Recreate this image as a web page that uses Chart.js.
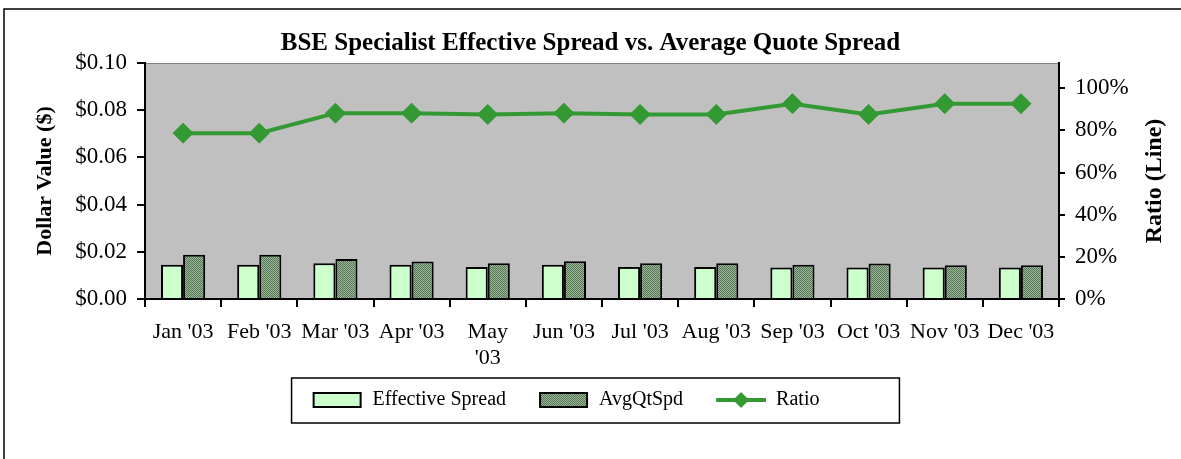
<!DOCTYPE html>
<html>
<head>
<meta charset="utf-8">
<script src="https://cdn.jsdelivr.net/npm/chart.js@4.4.1/dist/chart.umd.min.js"></script>
<style>
  html, body { margin: 0; padding: 0; background: #fff; }
  #wrap { width: 1181px; height: 459px; }
</style>
</head>
<body>
<div id="wrap"><canvas id="myChart" width="1181" height="459"></canvas></div>
<script>
// Daten ----------------------------------------------------------------
const monate = ["Jan '03", "Feb '03", "Mar '03", "Apr '03", ["May", "'03"], "Jun '03",
                "Jul '03", "Aug '03", "Sep '03", "Oct '03", "Nov '03", "Dec '03"];
const effectiveSpread = [0.0145, 0.0145, 0.0152, 0.0145, 0.0136, 0.0145,
                         0.0136, 0.0136, 0.0133, 0.0133, 0.0133, 0.0133];
const avgQtSpd = [0.0187, 0.0187, 0.0169, 0.0159, 0.0152, 0.0160,
                  0.0152, 0.0152, 0.0145, 0.0150, 0.0143, 0.0143];
const ratio = [0.787, 0.787, 0.882, 0.882, 0.876, 0.882,
               0.876, 0.876, 0.927, 0.876, 0.927, 0.927];
const dollarTicks = [0, 0.02, 0.04, 0.06, 0.08, 0.10];
const ratioTicks = [0, 0.2, 0.4, 0.6, 0.8, 1.0];

const serif = "'Liberation Serif', 'Times New Roman', serif";
const gruen = '#339933';
const LEER = 23; // Leerraum vor jedem Legendensymbol

// Punktraster fuer AvgQtSpd
function makePattern() {
    const c = document.createElement('canvas');
    c.width = 2; c.height = 2;
    const g = c.getContext('2d');
    g.fillStyle = '#9bb89b'; g.fillRect(0, 0, 2, 2);
    g.fillStyle = '#557555'; g.fillRect(0, 0, 1, 1); g.fillRect(1, 1, 1, 1);
    return g.createPattern(c, 'repeat');
}
const muster = makePattern();

// Legenden-Symbole als kleine Canvas (mit Leerraum links)
function swatch(fill) {
    const c = document.createElement('canvas');
    c.width = LEER + 50; c.height = 16;
    const g = c.getContext('2d');
    g.fillStyle = fill; g.fillRect(LEER + 1, 1, 47, 14);
    g.strokeStyle = '#000'; g.lineWidth = 2; g.strokeRect(LEER + 1, 1, 47, 14);
    return c;
}
function lineSymbol() {
    const c = document.createElement('canvas');
    c.width = LEER + 50; c.height = 20;
    const g = c.getContext('2d');
    g.strokeStyle = gruen; g.lineWidth = 4;
    g.beginPath(); g.moveTo(LEER, 10); g.lineTo(LEER + 50, 10); g.stroke();
    g.fillStyle = gruen;
    const m = LEER + 25;
    g.beginPath(); g.moveTo(m, 2); g.lineTo(m + 8, 10); g.lineTo(m, 18); g.lineTo(m - 8, 10); g.closePath(); g.fill();
    return c;
}
const symbole = [swatch('#ccffcc'), swatch(muster), lineSymbol()];
const legendTexte = ['Effective Spread', 'AvgQtSpd', 'Ratio'];

// Hintergrund, Rahmen, Legendenrahmen, rechter Achsentitel
const rahmenPlugin = {
    id: 'rahmen',
    afterLayout(chart) {
        // Legende wie im Original etwas nach links
        chart.legend.left -= 36;
        chart.legend.right -= 36;
    },
    beforeDraw(chart) {
        const ctx = chart.ctx, a = chart.chartArea;
        ctx.save();
        ctx.fillStyle = '#c0c0c0';
        ctx.fillRect(a.left, a.top, a.right - a.left, a.bottom - a.top);
        ctx.strokeStyle = '#808080'; ctx.lineWidth = 1;
        ctx.beginPath(); ctx.moveTo(a.left, a.top + 0.5); ctx.lineTo(a.right, a.top + 0.5); ctx.stroke();
        ctx.restore();
    },
    afterDraw(chart) {
        const ctx = chart.ctx, a = chart.chartArea;
        ctx.save();
        ctx.strokeStyle = '#000'; ctx.lineWidth = 1.5;
        ctx.beginPath(); ctx.moveTo(4, 470); ctx.lineTo(4, 9); ctx.lineTo(1190, 9); ctx.stroke();
        const hb = chart.legend.legendHitBoxes;
        if (hb && hb.length) {
            const first = hb[0], last = hb[hb.length - 1];
            const x1 = first.left + LEER - 21, x2 = last.left + last.width + 80;
            const yc = first.top + first.height / 2;
            ctx.strokeRect(x1, yc - 22, x2 - x1, 45);
        }
        // Titel der rechten Achse, von unten nach oben gelesen
        ctx.translate(1155, (a.top + a.bottom) / 2);
        ctx.rotate(-Math.PI / 2);
        ctx.fillStyle = '#000';
        ctx.font = 'bold 24px ' + serif;
        ctx.textAlign = 'center';
        ctx.textBaseline = 'middle';
        ctx.fillText('Ratio (Line)', 0, 0);
        ctx.restore();
    }
};

const ctx = document.getElementById('myChart');

const chart = new Chart(ctx, {
    type: 'bar',
    data: {
        labels: monate,
        datasets: [{
            label: 'Effective Spread',
            data: effectiveSpread,
            backgroundColor: '#ccffcc',
            borderColor: '#000',
            borderWidth: 2,
            categoryPercentage: 0.58,
            barPercentage: 1.0,
            yAxisID: 'y'
        }, {
            label: 'AvgQtSpd',
            data: avgQtSpd,
            backgroundColor: muster,
            borderColor: '#000',
            borderWidth: 2,
            categoryPercentage: 0.58,
            barPercentage: 1.0,
            yAxisID: 'y'
        }, {
            type: 'line',
            label: 'Ratio',
            data: ratio,
            order: -1,
            borderColor: gruen,
            backgroundColor: gruen,
            borderWidth: 4,
            pointStyle: 'rectRot',
            pointRadius: 10,
            pointBorderWidth: 1,
            yAxisID: 'y2'
        }]
    },
    options: {
        responsive: false,
        animation: false,
        layout: { padding: { left: 0, right: 0, top: 0, bottom: 39 } },
        scales: {
            x: {
                offset: true,
                grid: { display: true, drawOnChartArea: false, offset: true, color: '#000', lineWidth: 2, tickLength: 8 },
                border: { color: '#000', width: 2 },
                ticks: { color: '#000', font: { family: serif, size: 22, lineHeight: 1.2 }, padding: 12, maxRotation: 0, autoSkip: false },
                afterFit(scale) { scale.height = 81; }
            },
            y: {
                position: 'left',
                min: 0, max: 0.10,
                afterBuildTicks(scale) { scale.ticks = dollarTicks.map(v => ({ value: v })); },
                grid: { drawOnChartArea: false, color: '#000', lineWidth: 2, tickLength: 8 },
                border: { color: '#000', width: 2 },
                ticks: { color: '#000', font: { family: serif, size: 23 }, padding: 10,
                         callback: v => '$' + v.toFixed(2) },
                title: { display: true, text: 'Dollar Value ($)', color: '#000',
                         font: { family: serif, size: 22, weight: 'bold' }, padding: { top: 32, bottom: 0 } },
                afterFit(scale) { scale.width = 145; }
            },
            y2: {
                position: 'right',
                min: 0, max: 1.12,
                afterBuildTicks(scale) { scale.ticks = ratioTicks.map(v => ({ value: v })); },
                grid: { drawOnChartArea: false, color: '#000', lineWidth: 2, tickLength: 6 },
                border: { color: '#000', width: 2 },
                ticks: { color: '#000', font: { family: serif, size: 23 }, padding: 10,
                         callback: v => Math.round(v * 100) + '%' },
                afterFit(scale) { scale.width = 122; }
            }
        },
        plugins: {
            title: {
                display: true,
                text: 'BSE Specialist Effective Spread vs. Average Quote Spread',
                color: '#000',
                font: { family: serif, size: 25, weight: 'bold', lineHeight: 1.2 },
                padding: { top: 29, bottom: 4 }
            },
            legend: {
                position: 'bottom',
                labels: {
                    usePointStyle: true,
                    pointStyleWidth: LEER + 50,
                    boxHeight: 18,
                    padding: 10,
                    color: '#000',
                    font: { family: serif, size: 20 },
                    generateLabels: () => legendTexte.map((t, i) => ({
                        text: t,
                        pointStyle: symbole[i],
                        fillStyle: 'transparent',
                        strokeStyle: 'transparent',
                        lineWidth: 0,
                        hidden: false,
                        datasetIndex: i,
                        fontColor: '#000'
                    }))
                }
            },
            tooltip: { enabled: false }
        }
    },
    plugins: [rahmenPlugin]
});
</script>
</body>
</html>
